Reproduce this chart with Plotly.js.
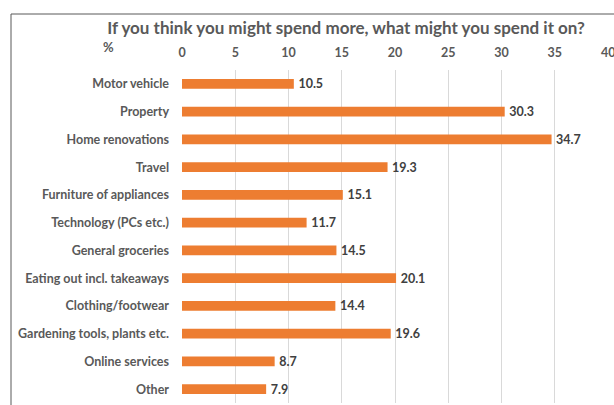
<!DOCTYPE html>
<html><head><meta charset="utf-8">
<script src="https://cdn.plot.ly/plotly-3.0.1.min.js"></script>
<style>html,body{margin:0;padding:0;background:#fff;}#chart{width:614px;height:405px;}</style>
</head><body><div id="chart"></div>
<script>
const categories = ["Motor vehicle","Property","Home renovations","Travel","Furniture of appliances","Technology (PCs etc.)","General groceries","Eating out incl. takeaways","Clothing/footwear","Gardening tools, plants etc.","Online services","Other"];
const values = [10.5,30.3,34.7,19.3,15.1,11.7,14.5,20.1,14.4,19.6,8.7,7.9];
const tickValues = [0,5,10,15,20,25,30,35,40];
const titleText = "If you think you might spend more, what might you spend it on?";
const unitLabel = "%";

const W=614,H=405,L=182,R=6,T=70,B=2;
const pw=W-L-R, ph=H-T-B;
const px=x=>(x-L)/pw, py=y=>(H-B-y)/ph;
const F='Lato, sans-serif';
const lastTick = tickValues[tickValues.length-1];

Plotly.newPlot('chart',[{
  type:'bar', orientation:'h', x:values, y:categories,
  marker:{color:'#ED7D31'},
  text:values.map(v=>'\u2009'+v.toFixed(1)), textposition:'outside', cliponaxis:false, constraintext:'none',
  textfont:{family:F,size:12.5,color:'#404040',weight:'bold'},
  hoverinfo:'none'
}],{
  width:W,height:H,margin:{l:L,r:R,t:T,b:B},
  paper_bgcolor:'#fff',plot_bgcolor:'#fff',
  bargap:0.64,showlegend:false,
  title:{text:'<b>'+titleText+'</b>',font:{family:F,size:17,color:'#595959'},
    x:346/W,xanchor:'center',xref:'container',y:1-28/H,yanchor:'middle',yref:'container'},
  xaxis:{side:'top',range:[0,lastTick],tickvals:tickValues,showgrid:true,gridcolor:'#d9d9d9',gridwidth:1,
    zeroline:false,showline:false,ticks:'',ticklabelstandoff:10,
    tickfont:{family:F,size:12.5,color:'#595959',weight:'bold'},fixedrange:true},
  yaxis:{autorange:'reversed',showgrid:false,zeroline:false,showline:false,ticks:'',ticklabelstandoff:12,
    tickfont:{family:F,size:12.5,color:'#595959',weight:'bold'},fixedrange:true},
  annotations:[
    {text:'<b>'+unitLabel+'</b>',xref:'paper',yref:'paper',x:px(108),y:py(47),
     xanchor:'center',yanchor:'middle',showarrow:false,font:{family:F,size:13,color:'#595959'}},
    {text:'<b>'+lastTick+'</b>',xref:'x',yref:'paper',x:lastTick,y:py(52),
     xanchor:'center',yanchor:'middle',showarrow:false,font:{family:F,size:12.5,color:'#595959'}}
  ],
  shapes:[{type:'rect',xref:'paper',yref:'paper',x0:px(11),y0:py(420),x1:px(630),y1:py(14),
    line:{color:'#595959',width:1},fillcolor:'rgba(0,0,0,0)',layer:'above'}]
},{displayModeBar:false,staticPlot:true});
</script></body></html>
